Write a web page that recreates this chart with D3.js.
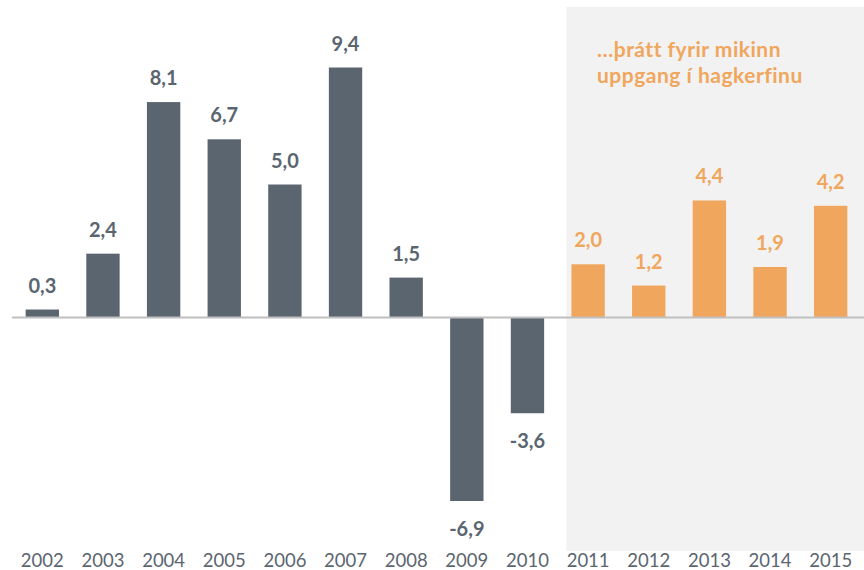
<!DOCTYPE html>
<html>
<head>
<meta charset="utf-8">
<script src="https://cdn.jsdelivr.net/npm/d3@7"></script>
<style>
  body { margin: 0; background: #fff; }
  text { font-family: Lato, "Open Sans", sans-serif; }
</style>
</head>
<body>
<script>
// data
var years = ["2002","2003","2004","2005","2006","2007","2008","2009","2010","2011","2012","2013","2014","2015"];
var values = [0.3, 2.4, 8.1, 6.7, 5.0, 9.4, 1.5, -6.9, -3.6, 2.0, 1.2, 4.4, 1.9, 4.2];
var highlightYears = ["2011","2012","2013","2014","2015"];
var noteLines = ["…þrátt fyrir mikinn", "uppgang í hagkerfinu"];

var w = 864, h = 570;
var grey = "#5b6570", orange = "#f0a65c";

var svg = d3.select("body").append("svg")
    .attr("width", w)
    .attr("height", h);

var xScale = d3.scaleBand()
    .domain(years)
    .range([12, 861])
    .paddingInner(0.45)
    .paddingOuter(0.225);

// zero at ~317.5
var yScale = d3.scaleLinear()
    .domain([-6.9, 9.4])
    .range([501, 67.5]);

function isHi(y) { return highlightYears.indexOf(y) >= 0; }

// shaded background
svg.append("rect")
    .attr("x", xScale("2011") - 5)
    .attr("y", 7)
    .attr("width", w - (xScale("2011") - 5))
    .attr("height", 544)
    .attr("fill", "#f2f2f2");

var data = years.map(function(y, i) { return {year: y, value: values[i]}; });

svg.selectAll("rect.bar")
    .data(data)
    .enter()
    .append("rect")
    .attr("class", "bar")
    .attr("x", function(d) { return xScale(d.year); })
    .attr("width", xScale.bandwidth())
    .attr("y", function(d) { return yScale(Math.max(0, d.value)); })
    .attr("height", function(d) { return Math.abs(yScale(d.value) - yScale(0)); })
    .attr("fill", function(d) { return isHi(d.year) ? orange : grey; });

// zero line
svg.append("line")
    .attr("x1", 12)
    .attr("x2", 864)
    .attr("y1", yScale(0))
    .attr("y2", yScale(0))
    .attr("stroke", "#bfbfbf")
    .attr("stroke-width", 2);

// value labels
svg.selectAll("text.val")
    .data(data)
    .enter()
    .append("text")
    .attr("class", "val")
    .attr("x", function(d) { return xScale(d.year) + xScale.bandwidth() / 2; })
    .attr("y", function(d) {
        return d.value >= 0 ? yScale(d.value) - 17 : yScale(d.value) + 35;
    })
    .attr("text-anchor", "middle")
    .attr("font-size", 20)
    .attr("font-weight", "bold")
    .attr("fill", function(d) { return isHi(d.year) ? orange : grey; })
    .text(function(d) { return d3.format(".1f")(d.value).replace(".", ",").replace("\u2212", "-"); });

// year labels
var xAxis = d3.axisBottom(xScale).tickSize(0).tickPadding(0);
var gx = svg.append("g")
    .attr("transform", "translate(0,567)")
    .call(xAxis);
gx.select(".domain").remove();
gx.selectAll("text")
    .attr("font-size", 18.5)
    .attr("font-family", "Lato, sans-serif")
    .attr("fill", grey)
    .attr("dy", 0);

// annotation
svg.append("text")
    .attr("x", 597)
    .attr("y", 57)
    .attr("font-size", 21)
    .attr("font-weight", "bold")
    .attr("letter-spacing", 0.5)
    .attr("fill", orange)
    .selectAll("tspan")
    .data(noteLines)
    .enter()
    .append("tspan")
    .attr("x", 597)
    .attr("dy", function(d, i) { return i === 0 ? 0 : 26; })
    .text(function(d) { return d; });
</script>
</body>
</html>
